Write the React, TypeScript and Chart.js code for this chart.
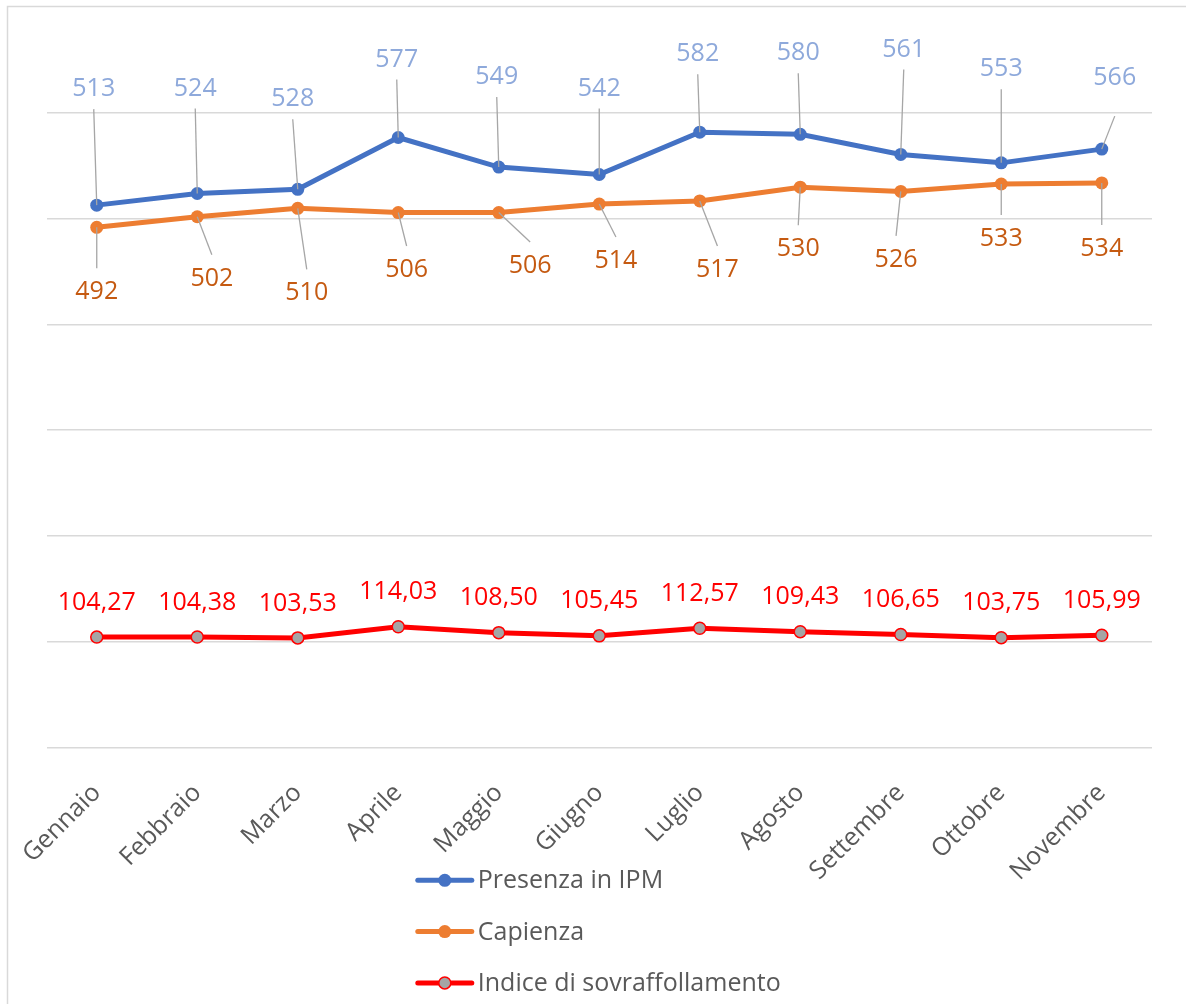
import React, { useEffect, useRef } from 'react';
import { Chart, registerables } from 'chart.js';

Chart.register(...registerables);

// ---------- data ----------
const months = ['Gennaio', 'Febbraio', 'Marzo', 'Aprile', 'Maggio', 'Giugno', 'Luglio', 'Agosto', 'Settembre', 'Ottobre', 'Novembre'];
const presenza = [513, 524, 528, 577, 549, 542, 582, 580, 561, 553, 566];
const capienza = [492, 502, 510, 506, 506, 514, 517, 530, 526, 533, 534];
const indice = [104.27, 104.38, 103.53, 114.03, 108.5, 105.45, 112.57, 109.43, 106.65, 103.75, 105.99];
const seriesNames = ['Presenza in IPM', 'Capienza', 'Indice di sovraffollamento'];
const yMin = 0;
const yMax = 700;
const yStep = 100;

// ---------- label placement (styling, pixel offsets from each point) ----------
const presenzaLabelOffsets = [[-3, -117], [-2, -106], [-5, -91], [-1.5, -79], [-2, -91], [0, -87], [-2, -79], [-2, -82], [3, -106], [0, -94.5], [13, -72]];
const presenzaLeaderGaps = [21, 21, 21, 21, 21, 21, 21, 21, 21, 21, 39];
const capienzaLabelOffsets = [[0, 64], [14.6, 61], [9, 84], [8.4, 56.5], [31.4, 52.5], [16.7, 56], [17.7, 68], [-2, 61], [-4.7, 67.5], [0, 54], [0, 65]];
const capienzaLeaderGaps = months.map(() => -23);
const indiceLabelOffsets = months.map(() => [0, -35.5]);

const FONT = '"Open Sans", "DejaVu Sans", sans-serif';

const fmtInt = (v: number) => String(v);
const fmtComma = (v: number) => v.toFixed(2).replace('.', ',');

const labelSpecs = [
  { offsets: presenzaLabelOffsets, color: '#8EA9DB', fmt: fmtInt, leader: true, gaps: presenzaLeaderGaps },
  { offsets: capienzaLabelOffsets, color: '#C55A11', fmt: fmtInt, leader: true, gaps: capienzaLeaderGaps },
  { offsets: indiceLabelOffsets, color: '#FF0000', fmt: fmtComma, leader: false, gaps: [] as number[] },
];

const borderPlugin = {
  id: 'outerBorder',
  beforeDraw(chart: any) {
    const ctx = chart.ctx;
    ctx.save();
    ctx.fillStyle = '#FFFFFF';
    ctx.fillRect(0, 0, chart.width, chart.height);
    ctx.strokeStyle = '#D9D9D9';
    ctx.lineWidth = 1.5;
    ctx.strokeRect(7.5, 6.5, chart.width + 20, chart.height + 20);
    ctx.restore();
  },
};

const dataLabelPlugin = {
  id: 'customDataLabels',
  afterDatasetsDraw(chart: any) {
    const ctx = chart.ctx;
    ctx.save();
    labelSpecs.forEach((spec, di) => {
      const meta = chart.getDatasetMeta(di);
      const values = chart.data.datasets[di].data as number[];
      meta.data.forEach((pt: any, i: number) => {
        const [dx, dy] = spec.offsets[i];
        const lx = pt.x + dx;
        const ly = pt.y + dy;
        if (spec.leader) {
          ctx.beginPath();
          ctx.strokeStyle = '#A6A6A6';
          ctx.lineWidth = 1.3;
          ctx.moveTo(pt.x, pt.y);
          ctx.lineTo(lx, ly + spec.gaps[i]);
          ctx.stroke();
        }
        ctx.fillStyle = spec.color;
        ctx.font = `25px ${FONT}`;
        ctx.textAlign = 'center';
        ctx.textBaseline = 'middle';
        ctx.fillText(spec.fmt(values[i]), lx, ly + 1);
      });
    });
    ctx.restore();
  },
};

const legendPlugin = {
  id: 'verticalLegend',
  afterDraw(chart: any) {
    const ctx = chart.ctx;
    const area = chart.chartArea;
    ctx.save();
    ctx.font = `25px ${FONT}`;
    const widths = chart.data.datasets.map((d: any) => ctx.measureText(d.label).width);
    const lineLen = 54;
    const gap = 6;
    const blockW = lineLen + gap + Math.max(...widths);
    const left = (area.left + area.right) / 2 - blockW / 2;
    const rowTop = area.bottom + 133;
    const rowH = 51.3;
    chart.data.datasets.forEach((d: any, i: number) => {
      const y = rowTop + i * rowH;
      ctx.beginPath();
      ctx.strokeStyle = d.borderColor;
      ctx.lineWidth = 5;
      ctx.lineCap = 'round';
      ctx.moveTo(left, y);
      ctx.lineTo(left + lineLen, y);
      ctx.stroke();
      ctx.beginPath();
      ctx.arc(left + lineLen / 2, y, d.pointRadius, 0, Math.PI * 2);
      ctx.fillStyle = d.pointBackgroundColor;
      ctx.fill();
      if (d.pointBorderWidth > 0) {
        ctx.lineWidth = d.pointBorderWidth;
        ctx.strokeStyle = d.pointBorderColor;
        ctx.stroke();
      }
      ctx.fillStyle = '#595959';
      ctx.textAlign = 'left';
      ctx.textBaseline = 'middle';
      ctx.fillText(d.label, left + lineLen + gap, y + 1);
    });
    ctx.restore();
  },
};

export default function App() {
  const canvasRef = useRef<HTMLCanvasElement | null>(null);

  useEffect(() => {
    const canvas = canvasRef.current;
    if (!canvas) return;
    const chart = new Chart(canvas, {
      type: 'line',
      data: {
        labels: months,
        datasets: [
          {
            label: seriesNames[0],
            data: presenza,
            borderColor: '#4472C4',
            backgroundColor: '#4472C4',
            pointBackgroundColor: '#4472C4',
            pointBorderColor: '#4472C4',
            pointBorderWidth: 0,
            pointRadius: 6.5,
            borderWidth: 5,
            tension: 0,
          },
          {
            label: seriesNames[1],
            data: capienza,
            borderColor: '#ED7D31',
            backgroundColor: '#ED7D31',
            pointBackgroundColor: '#ED7D31',
            pointBorderColor: '#ED7D31',
            pointBorderWidth: 0,
            pointRadius: 6.5,
            borderWidth: 5,
            tension: 0,
          },
          {
            label: seriesNames[2],
            data: indice,
            borderColor: '#FF0000',
            backgroundColor: '#FF0000',
            pointBackgroundColor: '#A5A5A5',
            pointBorderColor: '#FF0000',
            pointBorderWidth: 1.5,
            pointRadius: 6,
            borderWidth: 5,
            tension: 0,
          },
        ],
      },
      options: {
        responsive: false,
        animation: false,
        events: [],
        layout: { padding: { left: 46.5, right: 34, top: 6.2, bottom: 0 } },
        plugins: {
          legend: { display: false },
          tooltip: { enabled: false },
          title: { display: false },
        },
        scales: {
          x: {
            type: 'category',
            offset: true,
            grid: { display: false, drawTicks: false },
            border: { display: false },
            ticks: {
              minRotation: 45,
              maxRotation: 45,
              autoSkip: false,
              padding: 31,
              color: '#595959',
              font: { family: FONT, size: 25 },
            },
            afterFit: (scale: any) => {
              scale.height = 256.7;
              scale.paddingLeft = 0;
              scale.paddingRight = 0;
            },
          },
          y: {
            min: yMin,
            max: yMax,
            ticks: { display: false, stepSize: yStep },
            border: { display: false },
            grid: {
              drawTicks: false,
              lineWidth: 1.5,
              color: (c: any) => (c.tick && c.tick.value === yMax ? 'rgba(0,0,0,0)' : '#D9D9D9'),
            },
            afterFit: (scale: any) => {
              scale.width = 0;
            },
          },
        },
      },
      plugins: [borderPlugin, dataLabelPlugin, legendPlugin],
    });
    return () => chart.destroy();
  }, []);

  return (
    <div style={{ position: 'absolute', left: 0, top: 0, width: 1186, height: 1004, background: '#fff' }}>
      <canvas ref={canvasRef} width={1186} height={1004} style={{ display: 'block' }} />
    </div>
  );
}
